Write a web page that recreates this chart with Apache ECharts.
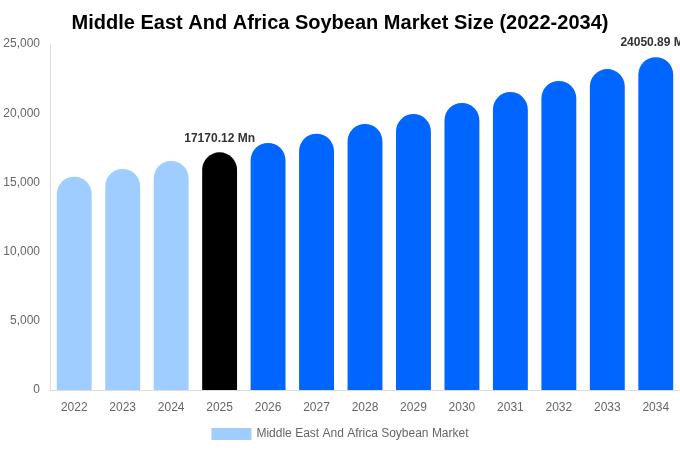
<!DOCTYPE html>
<html>
<head>
<meta charset="utf-8">
<script src="https://cdn.jsdelivr.net/npm/echarts@6/dist/echarts.min.js"></script>
<style>
  html, body { margin: 0; padding: 0; background: #fff; }
  #chart { width: 680px; height: 450px; }
</style>
</head>
<body>
<div id="chart"></div>
<script>
var years = ['2022', '2023', '2024', '2025', '2026', '2027', '2028', '2029', '2030', '2031', '2032', '2033', '2034']
var marketSize = [15410, 15970, 16550, 17170.12, 17850, 18520, 19220, 19940, 20740, 21530, 22330, 23190, 24050.89]
var yTicks = [0, 5000, 10000, 15000, 20000, 25000]
var labelYears = ['2025', '2034']

var chart = echarts.init(document.getElementById('chart'))

// 历史年份浅蓝，基准年黑色，预测年份深蓝
var barData = marketSize.map(function (v, i) {
  var y = +years[i]
  var color = y < 2025 ? '#A0CDFF' : (y === 2025 ? '#000000' : '#0066FF')
  var item = { value: v, itemStyle: { color: color } }
  if (labelYears.indexOf(years[i]) >= 0) {
    item.label = {
      show: true,
      position: 'top',
      formatter: function (p) { return p.value + ' Mn' },
      fontWeight: 'bold',
      fontSize: 12,
      color: '#333',
      distance: 8
    }
  }
  return item
})

var option = {
  textStyle: { fontFamily: 'Arial, "Liberation Sans", sans-serif' },
  title: {
    text: 'Middle East And Africa Soybean Market Size (2022-2034)',
    left: 'center',
    top: 8,
    textStyle: { fontSize: 20, fontWeight: 'bold', color: '#000' }
  },
  legend: {
    bottom: 5,
    left: 'center',
    icon: 'rect',
    itemWidth: 40,
    itemHeight: 12,
    textStyle: { color: '#666', fontSize: 12 },
    data: [{ name: 'Middle East And Africa Soybean Market', itemStyle: { color: '#A0CDFF' } }]
  },
  grid: { left: 50, right: 0, top: 44, bottom: 60 },
  xAxis: {
    type: 'category',
    data: years,
    axisLine: { show: true, lineStyle: { color: '#ddd' } },
    axisTick: { show: false },
    axisLabel: { color: '#666', fontSize: 12, margin: 12 }
  },
  yAxis: {
    type: 'value',
    min: yTicks[0],
    max: yTicks[yTicks.length - 1],
    interval: 5000,
    axisLine: { show: true, lineStyle: { color: '#ddd' } },
    axisTick: { show: false },
    splitLine: { show: false },
    axisLabel: {
      color: '#666',
      fontSize: 12,
      margin: 10,
      formatter: function (v) { return v.toLocaleString('en-US') }
    }
  },
  series: [
    {
      name: 'Middle East And Africa Soybean Market',
      type: 'bar',
      barWidth: '72%',
      data: barData,
      itemStyle: { borderRadius: [18, 18, 0, 0] }
    }
  ]
}

chart.setOption(option)
</script>
</body>
</html>
